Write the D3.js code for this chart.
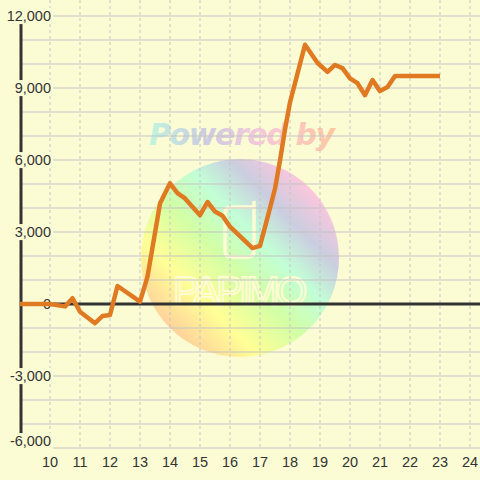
<!DOCTYPE html>
<html lang="en">
<head>
<meta charset="UTF-8">
<title>Line chart</title>
<style>
  body { margin: 0; background: #fcfcd4; }
  svg { display: block; }
</style>
</head>
<body>
<script src="https://d3js.org/d3.v7.min.js"></script>
<script>
    // data: hour of day -> value
    var hours  = [9, 10, 10.5, 10.75, 11, 11.5, 11.75, 12, 12.25, 13, 13.25, 13.67, 14, 14.25, 14.5, 15, 15.25, 15.5, 15.75, 16, 16.75, 17, 17.25, 17.5, 17.67, 17.83, 18, 18.5, 18.92, 19.25, 19.5, 19.75, 20, 20.25, 20.5, 20.75, 21, 21.25, 21.5, 23];
    var values = [0, 0, -100, 240, -320, -800, -500, -460, 750, 100, 1140, 4200, 5030, 4620, 4400, 3700, 4250, 3850, 3680, 3220, 2330, 2420, 3600, 4800, 6000, 7250, 8400, 10800, 10040, 9670, 9960, 9830, 9400, 9200, 8700, 9330, 8870, 9040, 9500, 9500];

    var xTicks = [10, 11, 12, 13, 14, 15, 16, 17, 18, 19, 20, 21, 22, 23, 24];
    var yTicks = [-6000, -3000, 0, 3000, 6000, 9000, 12000];
    var yTickLabels = ["-6,000", "-3,000", "0", "3,000", "6,000", "9,000", "12,000"];
    var yGrid = [-6000, -5000, -4000, -3000, -2000, -1000, 1000, 2000, 3000, 4000, 5000, 6000, 7000, 8000, 9000, 10000, 11000, 12000];

    var width = 480, height = 480;
    var bg = "#fcfcd4";

    var svg = d3.select("body").append("svg")
        .attr("width", width).attr("height", height);

    var x = d3.scaleLinear().domain([9, 24]).range([20, 470]);
    var y = d3.scaleLinear().domain([-6000, 12000]).range([448, 16]);

    svg.append("rect").attr("width", width).attr("height", height).attr("fill", bg);

    // watermark
    var defs = svg.append("defs");
    var g1 = defs.append("linearGradient").attr("id", "wm")
        .attr("x1", "10%").attr("y1", "90%").attr("x2", "90%").attr("y2", "10%");
    [[0, "#ffc49c"], [0.25, "#ffff96"], [0.45, "#d2ffa6"], [0.62, "#c2ffd6"], [0.78, "#cbcde0"], [0.95, "#ffc6dc"]]
        .forEach(function(s){ g1.append("stop").attr("offset", s[0]).attr("stop-color", s[1]); });
    var g2 = defs.append("linearGradient").attr("id", "pw")
        .attr("x1", "0%").attr("y1", "0%").attr("x2", "100%").attr("y2", "0%");
    [[0, "#bff5e0"], [0.3, "#cccce0"], [0.6, "#f6c8da"], [1, "#ffc8a0"]]
        .forEach(function(s){ g2.append("stop").attr("offset", s[0]).attr("stop-color", s[1]); });

    svg.append("circle").attr("cx", 240).attr("cy", 258).attr("r", 99)
        .attr("fill", "url(#wm)");
    svg.append("text").attr("x", 242).attr("y", 145)
        .attr("text-anchor", "middle")
        .attr("font-family", "DejaVu Sans, sans-serif")
        .attr("font-weight", "bold").attr("font-style", "italic")
        .attr("font-size", 30)
        .attr("textLength", 186)
        .attr("fill", "url(#pw)")
        .text("Powered by");
    svg.append("path")
        .attr("d", "M254,201 L254,251 Q254,257 248,257 L231,257 Q225,257 225,251 L225,213 Q225,207 231,207 L254,207")
        .attr("fill", "none").attr("stroke", "#fffbd4").attr("stroke-width", 3.5);
    svg.append("text").attr("x", 240).attr("y", 305)
        .attr("text-anchor", "middle")
        .attr("font-family", "Liberation Sans Narrow, Liberation Sans, sans-serif")
        .attr("font-size", 40)
        .attr("textLength", 134)
        .attr("fill", "none").attr("stroke", "#fffbd4").attr("stroke-width", 2)
        .text("PAPIMO");

    // grid
    svg.append("g").selectAll("line").data(yGrid).enter().append("line")
        .attr("x1", 20).attr("x2", width)
        .attr("y1", function(d){ return y(d); }).attr("y2", function(d){ return y(d); })
        .attr("stroke", "#c4c4c4").attr("stroke-width", 1.2);
    svg.append("g").selectAll("line").data(xTicks).enter().append("line")
        .attr("x1", function(d){ return x(d); }).attr("x2", function(d){ return x(d); })
        .attr("y1", 0).attr("y2", 448)
        .attr("stroke", "#c4c4c4").attr("stroke-width", 1).attr("stroke-dasharray", "3,3");

    // axes
    svg.append("line").attr("x1", 21).attr("x2", 21).attr("y1", 16).attr("y2", 448)
        .attr("stroke", "#333").attr("stroke-width", 3);
    svg.append("line").attr("x1", 20).attr("x2", width).attr("y1", y(0)).attr("y2", y(0))
        .attr("stroke", "#333").attr("stroke-width", 3);

    // y labels with background (lowest one kept above the x labels)
    var yl = svg.append("g").selectAll("g").data(yTicks).enter().append("g");
    var yText = yl.append("text")
        .attr("x", 51).attr("y", function(d){ return Math.min(y(d), 441); })
        .attr("dy", "0.35em").attr("text-anchor", "end")
        .attr("font-family", "Liberation Sans, Arial, sans-serif")
        .attr("font-size", 14.5).attr("fill", "#333")
        .text(function(d, i){ return yTickLabels[i]; });
    yText.each(function(){
        var b = this.getBBox();
        d3.select(this.parentNode).insert("rect", "text")
            .attr("x", b.x - 1).attr("y", b.y)
            .attr("width", b.width + 3).attr("height", b.height)
            .attr("fill", bg);
    });

    // x labels
    svg.append("g").selectAll("text").data(xTicks).enter().append("text")
        .attr("x", function(d){ return x(d); }).attr("y", 462)
        .attr("dy", "0.35em").attr("text-anchor", "middle")
        .attr("font-family", "Liberation Sans, Arial, sans-serif")
        .attr("font-size", 14.5).attr("fill", "#333")
        .text(function(d){ return d; });

    // series
    var line = d3.line()
        .x(function(d, i){ return x(hours[i]); })
        .y(function(d){ return y(d); });
    svg.append("path").datum(values)
        .attr("d", line)
        .attr("fill", "none").attr("stroke", "#df7a22")
        .attr("stroke-width", 4.5).attr("stroke-linejoin", "round");
</script>
</body>
</html>
